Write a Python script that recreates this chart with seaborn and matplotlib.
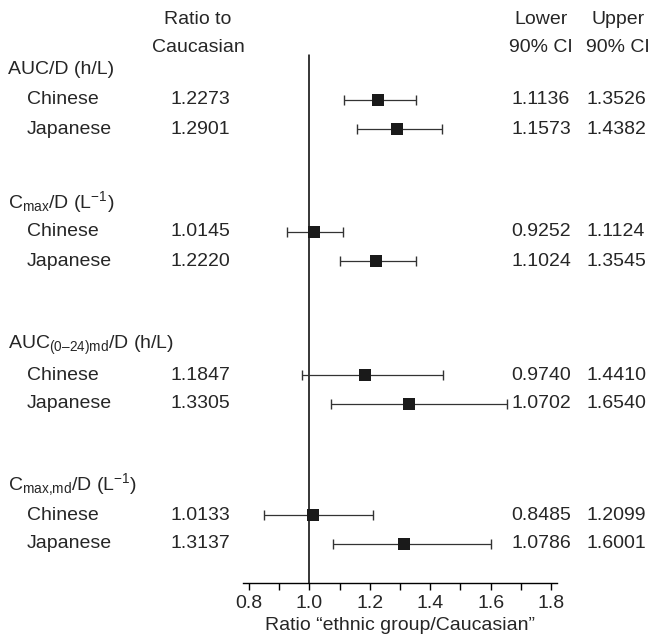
import numpy as np
import pandas as pd
import matplotlib
matplotlib.use("Agg")
import matplotlib.pyplot as plt
import matplotlib.transforms as mtransforms
import seaborn as sns

# data
groups = ["AUC/D (h/L)",
          r"C$_{\mathrm{max}}$/D (L$^{-1}$)",
          r"AUC$_{\mathrm{(0–24)md}}$/D (h/L)",
          r"C$_{\mathrm{max{,}md}}$/D (L$^{-1}$)"]
populations = ["Chinese", "Japanese"]
ratio = [1.2273, 1.2901, 1.0145, 1.2220, 1.1847, 1.3305, 1.0133, 1.3137]
lower = [1.1136, 1.1573, 0.9252, 1.1024, 0.9740, 1.0702, 0.8485, 1.0786]
upper = [1.3526, 1.4382, 1.1124, 1.3545, 1.4410, 1.6540, 1.2099, 1.6001]
ticks = [0.8, 0.9, 1.0, 1.1, 1.2, 1.3, 1.4, 1.5, 1.6, 1.7, 1.8]

# layout (pixel rows from top of figure)
group_top = [70, 202, 345, 485]
row_offset = [30, 59]

sns.set_style("white")
plt.rcParams["font.family"] = ["Liberation Sans", "DejaVu Sans"]
plt.rcParams["mathtext.fontset"] = "custom"
plt.rcParams["mathtext.rm"] = "Liberation Sans"
plt.rcParams["mathtext.it"] = "Liberation Sans"
plt.rcParams["mathtext.default"] = "rm"

rows = []
k = 0
for g, top in enumerate(group_top):
    for j, pop in enumerate(populations):
        rows.append({"group": g, "pop": pop, "y": top + row_offset[j],
                     "ratio": ratio[k], "lower": lower[k], "upper": upper[k]})
        k += 1
df = pd.DataFrame(rows)

W, H = 656, 644
fig = plt.figure(figsize=(W / 100, H / 100), dpi=100)
ax = fig.add_axes([243 / W, (H - 583) / H, 314 / W, 583 / H])
ax.set_xlim(0.78, 1.82)
ax.set_ylim(583, 0)

# reference line at 1.0
ax.plot([1.0, 1.0], [55, 583], color="black", lw=1.1, zorder=1)

# CIs
ax.errorbar(df["ratio"], df["y"],
            xerr=[df["ratio"] - df["lower"], df["upper"] - df["ratio"]],
            fmt="none", ecolor="#333333", elinewidth=0.9, capsize=3.5,
            capthick=1.0, zorder=2)
sns.scatterplot(data=df, x="ratio", y="y", marker="s", color="#1a1a1a",
                s=70, edgecolor="#1a1a1a", linewidth=0, ax=ax, zorder=3,
                legend=False)

# axes styling
for side in ["top", "left", "right"]:
    ax.spines[side].set_visible(False)
ax.spines["bottom"].set_linewidth(1.0)
ax.spines["bottom"].set_color("black")
ax.set_yticks([])
ax.set_xticks(ticks)
ax.set_xticklabels([f"{t:.1f}" if i % 2 == 0 else "" for i, t in enumerate(ticks)])
ax.tick_params(axis="x", direction="out", length=5, width=1, color="black",
               labelsize=14, pad=4, bottom=True)
ax.set_xlabel("Ratio “ethnic group/Caucasian”", fontsize=14, labelpad=3)
ax.set_ylabel("")

# text columns
tr = mtransforms.blended_transform_factory(fig.transFigure, ax.transData)
fs = 14
for g, top in enumerate(group_top):
    ax.text(8 / W, top, groups[g], transform=tr, fontsize=fs, va="center",
            ha="left", clip_on=False)
for _, r in df.iterrows():
    ax.text(27 / W, r["y"], r["pop"], transform=tr, fontsize=fs, va="center",
            ha="left", clip_on=False)
    ax.text(200 / W, r["y"], f"{r['ratio']:.4f}", transform=tr, fontsize=fs,
            va="center", ha="center", clip_on=False)
    ax.text(541 / W, r["y"], f"{r['lower']:.4f}", transform=tr, fontsize=fs,
            va="center", ha="center", clip_on=False)
    ax.text(616 / W, r["y"], f"{r['upper']:.4f}", transform=tr, fontsize=fs,
            va="center", ha="center", clip_on=False)

headers = [(198, "Ratio to", "Caucasian"), (541, "Lower", "90% CI"),
           (618, "Upper", "90% CI")]
for x, l1, l2 in headers:
    ax.text(x / W, 20, l1, transform=tr, fontsize=fs, va="center", ha="center",
            clip_on=False)
    ax.text(x / W, 47, l2, transform=tr, fontsize=fs, va="center", ha="center",
            clip_on=False)

fig.savefig("out.png", dpi=100)
